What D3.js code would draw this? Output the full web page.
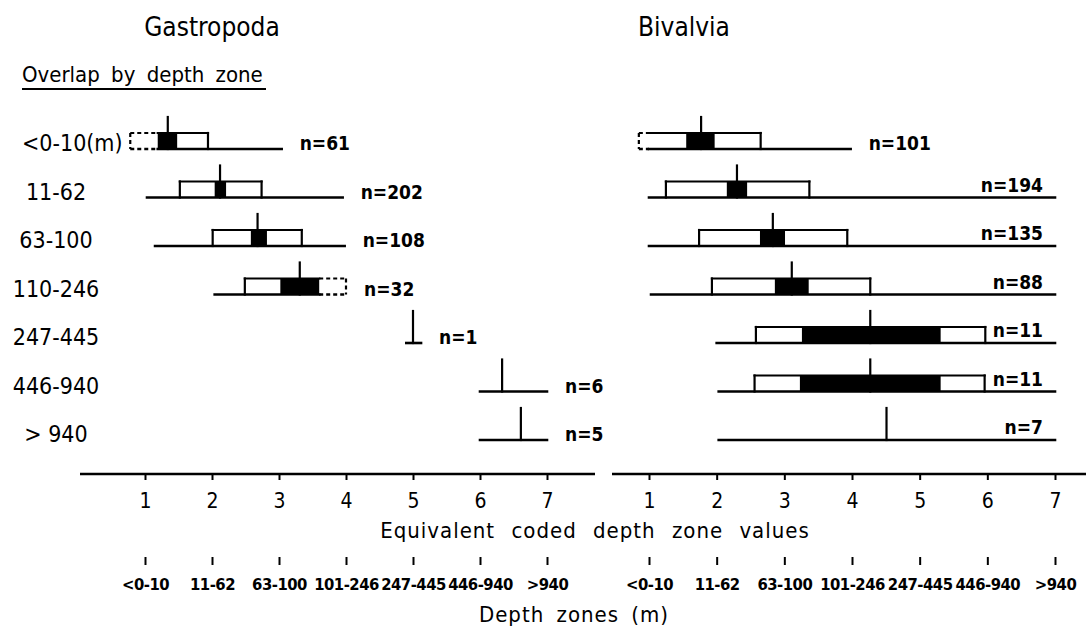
<!DOCTYPE html>
<html>
<head>
<meta charset="utf-8">
<script src="https://cdn.jsdelivr.net/npm/d3@7"></script>
<style>
  body { margin: 0; background: #fff; }
  svg text { font-family: "DejaVu Sans Condensed", "Liberation Sans Narrow", "DejaVu Sans", sans-serif; fill: #000; font-stretch: condensed; }
</style>
</head>
<body>
<svg id="chart" width="1086" height="632"></svg>
<script>
// Depth zones (rows) and the two horizontal scales
const zoneLabels = ["<0-10(m)", "11-62", "63-100", "110-246", "247-445", "446-940", "> 940"];
const codedTicks = [1, 2, 3, 4, 5, 6, 7];
const depthTickLabels = ["<0-10", "11-62", "63-100", "101-246", "247-445", "446-940", ">940"];

// Gastropoda: total range, outer (white) box, overlap core (black), median, dashed extrapolation, sample size
const gastRange  = [[0.78, 3.04], [1.03, 3.95], [1.15, 3.98], [2.04, 4.00], [4.90, 5.12], [6.00, 7.00], [6.00, 7.00]];
const gastBox    = [[0.78, 1.94], [1.52, 2.74], [2.01, 3.34], [2.49, 4.00], null, null, null];
const gastCore   = [[1.19, 1.48], [2.04, 2.21], [2.58, 2.82], [3.02, 3.60], null, null, null];
const gastMedian = [1.34, 2.12, 2.68, 3.31, 5.00, 6.33, 6.61];
const gastDashed = [[0.78, 1.19], null, null, [3.60, 4.00], null, null, null];
const gastN      = [61, 202, 108, 32, 1, 6, 5];

// Bivalvia
const bivRange  = [[0.85, 3.98], [1.00, 7.00], [1.00, 7.00], [1.03, 7.00], [2.00, 7.00], [2.03, 7.00], [2.03, 7.00]];
const bivBox    = [[0.85, 2.65], [1.25, 3.37], [1.74, 3.93], [1.93, 4.27], [2.58, 5.97], [2.56, 5.96], null];
const bivCore   = [[1.55, 1.97], [2.15, 2.45], [2.64, 3.01], [2.86, 3.36], [3.26, 5.31], [3.23, 5.31], null];
const bivMedian = [1.77, 2.30, 2.83, 3.11, 4.27, 4.27, 4.51];
const bivDashed = [[0.85, 1.00], null, null, null, null, null, null];
const bivN      = [101, 194, 135, 88, 11, 11, 7];

const svg = d3.select("#chart");

const rowY = d3.scalePoint().domain(d3.range(zoneLabels.length)).range([149, 440]);
const BOX_H = 16, TICK_H = 32;
const AXIS_Y = 474, DEPTH_AXIS_Y = 557;

const panels = [
  { title: "Gastropoda", titleX: 212, x: d3.scaleLinear().domain([1, 7]).range([145, 547]),
    lineFrom: 80, lineTo: 595,
    range: gastRange, box: gastBox, core: gastCore, median: gastMedian, dashed: gastDashed, n: gastN },
  { title: "Bivalvia", titleX: 684, x: d3.scaleLinear().domain([1, 7]).range([649, 1055]),
    lineFrom: 612, lineTo: 1086,
    range: bivRange, box: bivBox, core: bivCore, median: bivMedian, dashed: bivDashed, n: bivN }
];

// split [a,b] into solid / dashed pieces
function pieces(a, b, dash) {
  if (!dash) return [[a, b, false]];
  const out = [];
  if (dash[0] > a) out.push([a, Math.min(dash[0], b), false]);
  out.push([Math.max(a, dash[0]), Math.min(b, dash[1]), true]);
  if (dash[1] < b) out.push([Math.max(a, dash[1]), b, false]);
  return out.filter(p => p[1] > p[0]);
}

function seg(g, x1, y1, x2, y2, dashed, w) {
  g.append("line")
    .attr("x1", x1).attr("y1", y1).attr("x2", x2).attr("y2", y2)
    .attr("stroke", "#000").attr("stroke-width", w)
    .attr("stroke-dasharray", dashed ? "4,3" : null)
    .attr("stroke-linecap", dashed ? "butt" : "square");
}

panels.forEach(p => {
  const g = svg.append("g");
  const x = p.x;

  g.append("text").attr("x", p.titleX).attr("y", 36)
    .attr("text-anchor", "middle").attr("font-size", 26).text(p.title);

  zoneLabels.forEach((_, i) => {
    const base = rowY(i);
    const [lo, hi] = p.range[i];
    const dash = p.dashed[i];

    // range line
    pieces(lo, hi, dash).forEach(([a, b, d]) => seg(g, x(a), base, x(b), base, d, 2.6));

    // outer box, open at the bottom (the range line closes it)
    const bx = p.box[i];
    if (bx) {
      const top = base - BOX_H;
      const ps = pieces(bx[0], bx[1], dash);
      ps.forEach(([a, b, d]) => seg(g, x(a), top, x(b), top, d, 2.2));
      seg(g, x(bx[0]), top, x(bx[0]), base, ps[0][2], 2.2);
      seg(g, x(bx[1]), top, x(bx[1]), base, ps[ps.length - 1][2], 2.2);
    }

    // overlap core
    const c = p.core[i];
    if (c) {
      g.append("rect")
        .attr("x", x(c[0])).attr("y", base - BOX_H)
        .attr("width", x(c[1]) - x(c[0])).attr("height", BOX_H)
        .attr("fill", "#000");
    }

    // median tick
    seg(g, x(p.median[i]), base, x(p.median[i]), base - TICK_H, false, 2.2);

    // sample size: beside the range line when there is room, otherwise above its end
    const fitsRight = x(hi) + 40 <= p.lineTo;
    g.append("text")
      .attr("x", fitsRight ? x(hi) + 18 : x(hi) - 12)
      .attr("y", fitsRight ? base + 1 : base - 6)
      .attr("text-anchor", fitsRight ? "start" : "end")
      .attr("font-size", 19)
      .attr("font-weight", "bold")
      .text("n=" + p.n[i]);
  });

  // coded depth axis
  g.append("line")
    .attr("x1", p.lineFrom).attr("x2", p.lineTo)
    .attr("y1", AXIS_Y).attr("y2", AXIS_Y)
    .attr("stroke", "#000").attr("stroke-width", 2.6);

  const ax = g.append("g").attr("transform", `translate(0,${AXIS_Y})`)
    .call(d3.axisBottom(x).tickValues(codedTicks).tickFormat(d3.format("d")).tickSize(6).tickPadding(13));
  ax.select(".domain").remove();
  ax.selectAll(".tick line").attr("stroke", "#000").attr("stroke-width", 2);
  ax.selectAll(".tick text").attr("font-size", 21).attr("font-family", null);

  // depth-zone axis (ticks only)
  const dx = g.append("g").attr("transform", `translate(0,${DEPTH_AXIS_Y})`)
    .call(d3.axisBottom(x).tickValues(codedTicks).tickFormat((d, i) => depthTickLabels[i]).tickSize(8).tickPadding(13));
  dx.select(".domain").remove();
  dx.selectAll(".tick line").attr("stroke", "#000").attr("stroke-width", 2);
  dx.selectAll(".tick text").attr("font-size", 16.5).attr("font-weight", "bold")
    .attr("letter-spacing", -0.5).attr("font-family", null);
});

// row labels
svg.append("g").selectAll("text").data(zoneLabels).join("text")
  .attr("x", (d, i) => i === 0 ? 22 : 56)
  .attr("y", (d, i) => rowY(i) + 2)
  .attr("text-anchor", (d, i) => i === 0 ? "start" : "middle")
  .attr("font-size", 23)
  .text(d => d);

// legend heading
svg.append("text").attr("x", 22).attr("y", 82).attr("font-size", 22).attr("word-spacing", 5)
  .text("Overlap by depth zone");
svg.append("line").attr("x1", 22).attr("x2", 266).attr("y1", 89).attr("y2", 89)
  .attr("stroke", "#000").attr("stroke-width", 2);

// axis titles
svg.append("text").attr("x", 595).attr("y", 538).attr("text-anchor", "middle")
  .attr("font-size", 22).attr("letter-spacing", 1).attr("word-spacing", 9)
  .text("Equivalent coded depth zone values");
svg.append("text").attr("x", 574).attr("y", 622).attr("text-anchor", "middle")
  .attr("font-size", 22).attr("letter-spacing", 1).attr("word-spacing", 5)
  .text("Depth zones (m)");
</script>
</body>
</html>
